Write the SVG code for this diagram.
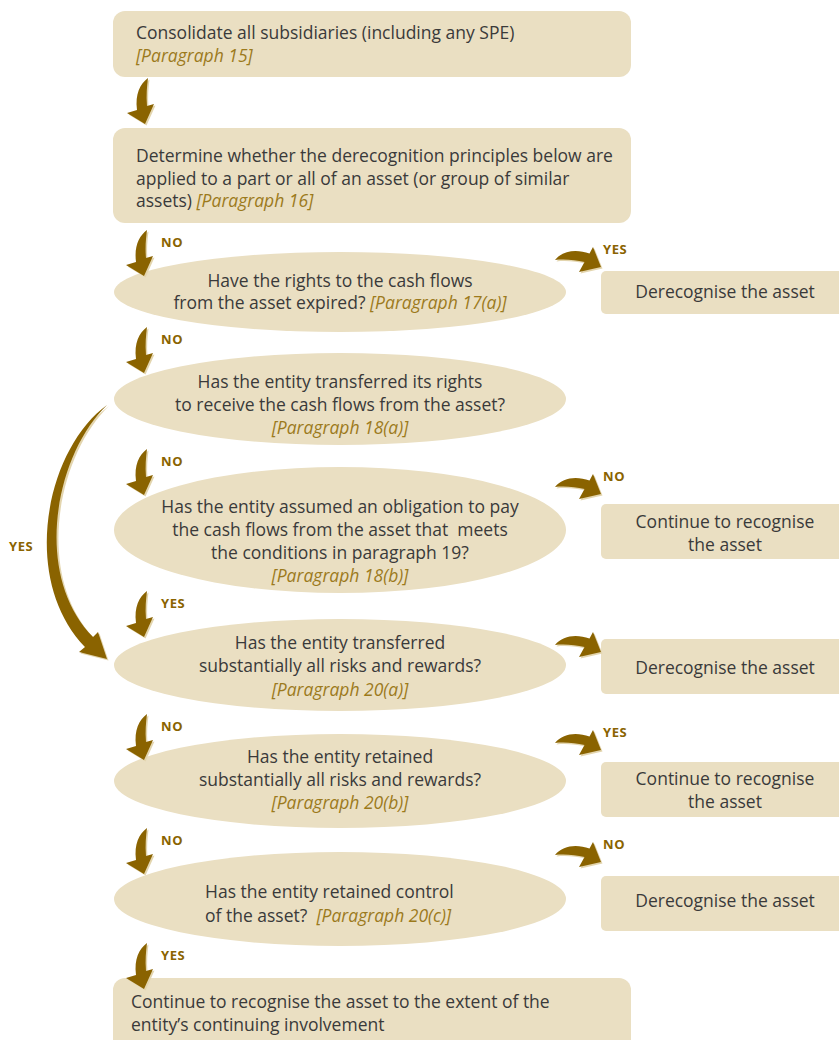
<svg xmlns="http://www.w3.org/2000/svg" xmlns:xlink="http://www.w3.org/1999/xlink" width="839" height="1040" viewBox="0 0 839 1040">
<style>
.node{fill:#eadfc2}
.t{font-family:"Open Sans","Noto Sans","Liberation Sans",sans-serif;font-size:17.5px;fill:#3a3a3a}
.p{font-style:italic;fill:#9c7a1c}
.lbl{font-family:"Open Sans","Noto Sans","Liberation Sans",sans-serif;font-size:13px;letter-spacing:0.6px;font-weight:bold;fill:#8a6300}
.arr{fill:#8a6300}
.sh{fill:#e3d5ae}
</style>
<defs>
<path id="down" d="M0,0 C-8,6 -13,16 -11,32 L-21,35 L-3,46 L6,26 L-1,28 C-2,17 -1,8 0,0 Z"/>
<path id="right" d="M0,0 C8,-10 22,-11 34.5,-6.5 L38,-13 L46,7 L24,12 L29.5,2 C20,0 10,-1 0,0 Z"/>
</defs>

<g id="n1"><rect class="node" x="113" y="11" width="518" height="66" rx="12"/>
<text class="t" x="136" y="39">Consolidate all subsidiaries (including any SPE)</text>
<text class="t p" x="136" y="62">[Paragraph 15]</text></g>

<g id="n2"><rect class="node" x="113" y="128" width="518" height="95" rx="12"/>
<text class="t" x="136" y="162">Determine whether the derecognition principles below are</text>
<text class="t" x="136" y="185">applied to a part or all of an asset (or group of similar</text>
<text class="t" x="136" y="207">assets) <tspan class="p">[Paragraph 16]</tspan></text></g>

<g id="q1"><ellipse class="node" cx="340" cy="292" rx="226" ry="40"/>
<text class="t" text-anchor="middle" x="340" y="287">Have the rights to the cash flows</text>
<text class="t" text-anchor="middle" x="340" y="309">from the asset expired? <tspan class="p">[Paragraph 17(a)]</tspan></text></g>

<g id="q2"><ellipse class="node" cx="340" cy="399" rx="226" ry="46"/>
<text class="t" text-anchor="middle" x="340" y="388">Has the entity transferred its rights</text>
<text class="t" text-anchor="middle" x="340" y="411">to receive the cash flows from the asset?</text>
<text class="t p" text-anchor="middle" x="340" y="434">[Paragraph 18(a)]</text></g>

<g id="q3"><ellipse class="node" cx="340" cy="530" rx="226" ry="63"/>
<text class="t" text-anchor="middle" x="340" y="513">Has the entity assumed an obligation to pay</text>
<text class="t" text-anchor="middle" x="340" y="536" xml:space="preserve">the cash flows from the asset that  meets</text>
<text class="t" text-anchor="middle" x="340" y="559">the conditions in paragraph 19?</text>
<text class="t p" text-anchor="middle" x="340" y="582">[Paragraph 18(b)]</text></g>

<g id="q4"><ellipse class="node" cx="340" cy="665" rx="226" ry="46"/>
<text class="t" text-anchor="middle" x="340" y="649">Has the entity transferred</text>
<text class="t" text-anchor="middle" x="340" y="672">substantially all risks and rewards?</text>
<text class="t p" text-anchor="middle" x="340" y="696">[Paragraph 20(a)]</text></g>

<g id="q5"><ellipse class="node" cx="340" cy="781" rx="226" ry="47"/>
<text class="t" text-anchor="middle" x="340" y="763">Has the entity retained</text>
<text class="t" text-anchor="middle" x="340" y="786">substantially all risks and rewards?</text>
<text class="t p" text-anchor="middle" x="340" y="809">[Paragraph 20(b)]</text></g>

<g id="q6"><ellipse class="node" cx="340" cy="899" rx="226" ry="47"/>
<text class="t" x="205" y="898">Has the entity retained control</text>
<text class="t" x="205" y="922" xml:space="preserve">of the asset?  <tspan class="p">[Paragraph 20(c)]</tspan></text></g>

<g id="n3"><rect class="node" x="113" y="978" width="518" height="80" rx="12"/>
<text class="t" x="131" y="1008">Continue to recognise the asset to the extent of the</text>
<text class="t" x="131" y="1031">entity’s continuing involvement</text></g>

<g id="r1"><rect class="node" x="601" y="271" width="250" height="43" rx="5"/>
<text class="t" text-anchor="middle" x="725" y="298">Derecognise the asset</text></g>
<g id="r2"><rect class="node" x="601" y="504" width="250" height="55" rx="5"/>
<text class="t" text-anchor="middle" x="725" y="528">Continue to recognise</text>
<text class="t" text-anchor="middle" x="725" y="551">the asset</text></g>
<g id="r3"><rect class="node" x="601" y="639" width="250" height="55" rx="5"/>
<text class="t" text-anchor="middle" x="725" y="674">Derecognise the asset</text></g>
<g id="r4"><rect class="node" x="601" y="762" width="250" height="55" rx="5"/>
<text class="t" text-anchor="middle" x="725" y="785">Continue to recognise</text>
<text class="t" text-anchor="middle" x="725" y="808">the asset</text></g>
<g id="r5"><rect class="node" x="601" y="876" width="250" height="55" rx="5"/>
<text class="t" text-anchor="middle" x="725" y="907">Derecognise the asset</text></g>

<g id="connectors">
<g class="sh">
<use xlink:href="#down" x="149.5" y="79.5"/>
<use xlink:href="#down" x="148.5" y="231.5"/>
<use xlink:href="#down" x="148.5" y="328.5"/>
<use xlink:href="#down" x="148.5" y="450.5"/>
<use xlink:href="#down" x="148.5" y="592.5"/>
<use xlink:href="#down" x="148.5" y="715.5"/>
<use xlink:href="#down" x="148.5" y="829.5"/>
<use xlink:href="#down" x="148.5" y="944.5"/>
<use xlink:href="#right" x="556.5" y="261.5"/>
<use xlink:href="#right" x="556.5" y="488.5"/>
<use xlink:href="#right" x="556.5" y="646.5"/>
<use xlink:href="#right" x="556.5" y="744.5"/>
<use xlink:href="#right" x="556.5" y="856.5"/>
<path d="M109,406 C47,451 22,581 86.5,648.5 L80.5,653.5 L108.5,660.5 L99.5,633.5 L94.5,638.5 C34,576 57,456 109,406 Z"/>
</g>
<g class="arr">
<use xlink:href="#down" x="148" y="78"/>
<use xlink:href="#down" x="147" y="230"/>
<use xlink:href="#down" x="147" y="327"/>
<use xlink:href="#down" x="147" y="449"/>
<use xlink:href="#down" x="147" y="591"/>
<use xlink:href="#down" x="147" y="714"/>
<use xlink:href="#down" x="147" y="828"/>
<use xlink:href="#down" x="147" y="943"/>
<use xlink:href="#right" x="555" y="260"/>
<use xlink:href="#right" x="555" y="487"/>
<use xlink:href="#right" x="555" y="645"/>
<use xlink:href="#right" x="555" y="743"/>
<use xlink:href="#right" x="555" y="855"/>
<path d="M107,405 C45,450 20,580 85,647 L79,652 L107,659 L98,632 L93,637 C32,575 55,455 107,405 Z"/>
</g>
<text class="lbl" x="161" y="247">NO</text>
<text class="lbl" x="161" y="344">NO</text>
<text class="lbl" x="161" y="466">NO</text>
<text class="lbl" x="161" y="608">YES</text>
<text class="lbl" x="161" y="731">NO</text>
<text class="lbl" x="161" y="845">NO</text>
<text class="lbl" x="161" y="960">YES</text>
<text class="lbl" x="603" y="254">YES</text>
<text class="lbl" x="603" y="481">NO</text>
<text class="lbl" x="603" y="737">YES</text>
<text class="lbl" x="603" y="849">NO</text>
<text class="lbl" x="9" y="551">YES</text>
</g>
</svg>
